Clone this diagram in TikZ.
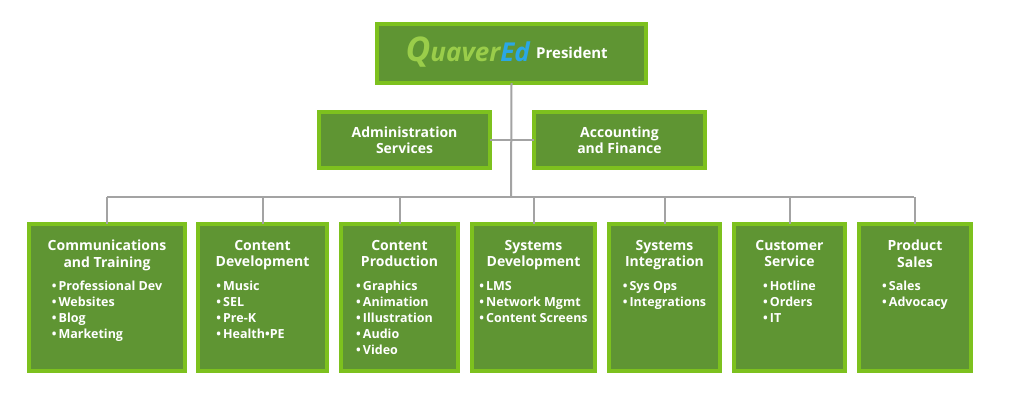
\documentclass[tikz,border=0pt]{standalone}
\usepackage{fontspec}
\setmainfont{Open Sans}[BoldFont={Open Sans Bold}]
\begin{document}
\begin{tikzpicture}[x=1pt,y=-1pt,
  box/.style={draw=lgreen,line width=4pt,fill=dgreen,inner sep=0pt,outer sep=0pt},
  ttl/.style={text=white,font=\bfseries\fontsize{14}{16.5}\selectfont,align=center,anchor=north,inner sep=0pt},
  lst/.style={text=white,font=\bfseries\fontsize{12.5}{16}\selectfont,align=left,anchor=north,inner sep=0pt},
  conn/.style={draw=lgray,line width=2pt}]
\definecolor{lgreen}{HTML}{7DC11E}
\definecolor{dgreen}{HTML}{5F9533}
\definecolor{lgray}{HTML}{A3A3A3}
\definecolor{qblue}{HTML}{2AA7E6}
\definecolor{qgreen}{HTML}{9ACD4A}
\useasboundingbox[fill=white] (0,0) rectangle (1024,400);
\newcommand{\bx}[5]{\node[box,minimum width={#3-#2-4pt},minimum height={#5-#4-4pt}] (#1) at ({(#2+#3)/2},{(#4+#5)/2}) {};}
\coordinate (hub) at (511,197);
\coordinate (hl) at (107,197);
\coordinate (hr) at (914,197);
\coordinate (mid) at (511,140);
\bx{pres}{375}{648}{22}{85}
\bx{adm}{317}{492}{110}{170}
\bx{acc}{532}{707}{110}{170}
\bx{b1}{27}{187}{222}{373}
\bx{b2}{196}{329}{222}{373}
\bx{b3}{339}{460}{222}{373}
\bx{b4}{470}{597}{222}{373}
\bx{b5}{607}{722}{222}{373}
\bx{b6}{732}{847}{222}{373}
\bx{b7}{857}{973}{222}{373}
\draw[conn] (pres.south) -- (hub);
\draw[conn] (adm.east) -- (mid);
\draw[conn] (acc.west) -- (mid);
\draw[conn] (hl) -- (hr);
\foreach \b in {b1,b2,b3,b4,b5,b6,b7}{\draw[conn] (\b.north |- hub) -- (\b.north);}
\node[text=white,font=\bfseries\fontsize{15}{18}\selectfont,anchor=west,inner sep=0pt] (ptxt) at (536,53) {President};
\node[font=\bfseries\itshape\fontsize{26}{28}\selectfont,anchor=east,inner sep=0pt] (logo) at (530,52)
  {\textcolor{qgreen}{\fontsize{34}{34}\selectfont Q}\textcolor{qgreen}{uaver}\textcolor{qblue}{Ed}};
\node[text=white,font=\bfseries\fontsize{14}{16.5}\selectfont,align=center,inner sep=0pt] (atxt) at (adm) {Administration\\Services};
\node[text=white,font=\bfseries\fontsize{14}{16.5}\selectfont,align=center,inner sep=0pt] (ctxt) at (acc) {Accounting\\and Finance};
\newcommand{\itm}{\textbullet\,}
\node[ttl] (t1) at ([yshift=-16]b1.north) {Communications\\and Training};
\node[lst] (l1) at ([yshift=-57]b1.north) {\itm Professional Dev\\\itm Websites\\\itm Blog\\\itm Marketing};
\node[ttl] (t2) at ([yshift=-16]b2.north) {Content\\Development};
\node[lst,xshift=-12] (l2) at ([yshift=-57]b2.north) {\itm Music\\\itm SEL\\\itm Pre-K\\\itm Health\textbullet PE};
\node[ttl] (t3) at ([yshift=-16]b3.north) {Content\\Production};
\node[lst,xshift=-5] (l3) at ([yshift=-57]b3.north) {\itm Graphics\\\itm Animation\\\itm Illustration\\\itm Audio\\\itm Video};
\node[ttl] (t4) at ([yshift=-16]b4.north) {Systems\\Development};
\node[lst] (l4) at ([yshift=-57]b4.north) {\itm LMS\\\itm Network Mgmt\\\itm Content Screens};
\node[ttl] (t5) at ([yshift=-16]b5.north) {Systems\\Integration};
\node[lst] (l5) at ([yshift=-57]b5.north) {\itm Sys Ops\\\itm Integrations};
\node[ttl] (t6) at ([yshift=-16]b6.north) {Customer\\Service};
\node[lst] (l6) at ([yshift=-57]b6.north) {\itm Hotline\\\itm Orders\\\itm IT};
\node[ttl] (t7) at ([yshift=-16]b7.north) {Product\\Sales};
\node[lst] (l7) at ([yshift=-57]b7.north) {\itm Sales\\\itm Advocacy};
\end{tikzpicture}
\end{document}
